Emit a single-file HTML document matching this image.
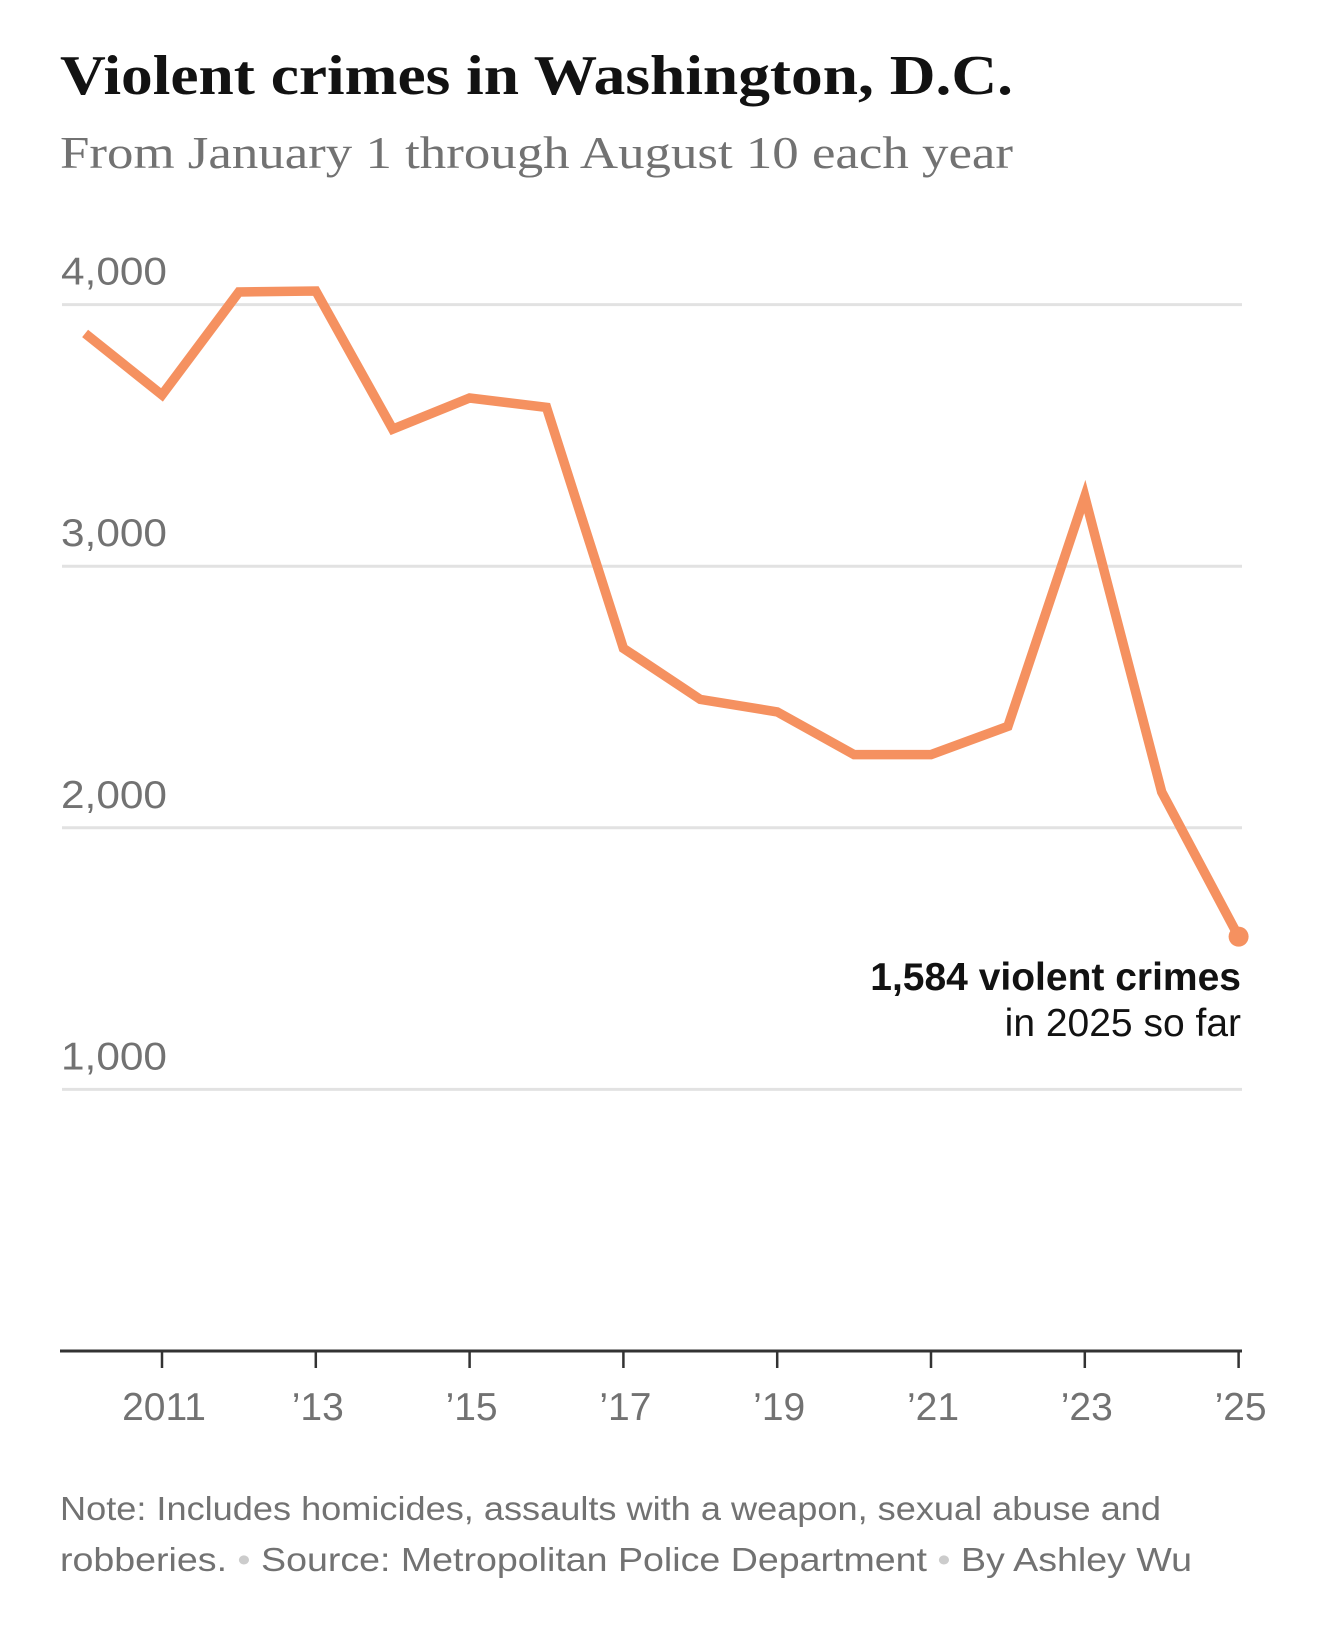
<!DOCTYPE html>
<html><head><meta charset="utf-8"><style>
html,body{margin:0;padding:0;background:#fff;}
svg{display:block;}
</style></head><body>
<svg id="chart" width="1320" height="1631" viewBox="0 0 1320 1631" xmlns="http://www.w3.org/2000/svg">
<text x="60" y="94" font-family="Liberation Serif, serif" font-weight="bold" font-size="56" fill="#121212" textLength="953" lengthAdjust="spacingAndGlyphs">Violent crimes in Washington, D.C.</text>
<text x="60" y="168" font-family="Liberation Serif, serif" font-size="46" fill="#727272" textLength="953" lengthAdjust="spacingAndGlyphs">From January 1 through August 10 each year</text>
<g id="grid"></g>
<g id="xaxis"></g>
<g id="series"></g>
<text x="1241" y="990" text-anchor="end" font-family="Liberation Sans, sans-serif" font-weight="bold" font-size="39" fill="#121212">1,584 violent crimes</text>
<text x="1241" y="1036" text-anchor="end" font-family="Liberation Sans, sans-serif" font-size="39" fill="#121212">in 2025 so far</text>
<text x="60" y="1520" font-family="Liberation Sans, sans-serif" font-size="33" fill="#727272" textLength="1101" lengthAdjust="spacingAndGlyphs">Note: Includes homicides, assaults with a weapon, sexual abuse and</text>
<text x="60" y="1571" font-family="Liberation Sans, sans-serif" font-size="33" fill="#727272" textLength="1132" lengthAdjust="spacingAndGlyphs">robberies. <tspan fill="#ccc">•</tspan> Source: Metropolitan Police Department <tspan fill="#ccc">•</tspan> By Ashley Wu</text>
</svg>
<script>
const years = [2010,2011,2012,2013,2014,2015,2016,2017,2018,2019,2020,2021,2022,2023,2024,2025];
const crimes = [3890,3655,4048,4052,3524,3643,3607,2686,2491,2443,2280,2280,2388,3266,2137,1584];
const yTicks = [1000,2000,3000,4000];
const yTickLabels = ["1,000","2,000","3,000","4,000"];
const xTicks = [2011,2013,2015,2017,2019,2021,2023,2025];
const xTickLabels = ["2011","\u201913","\u201915","\u201917","\u201919","\u201921","\u201923","\u201925"];

const NS = "http://www.w3.org/2000/svg";
const x = yr => 162 + (yr - 2011) * 76.9;
const y = v => 1351 - v * 0.2616;
function mk(tag, attrs, parent){const e=document.createElementNS(NS,tag);for(const k in attrs)e.setAttribute(k,attrs[k]);parent.appendChild(e);return e;}

const grid = document.getElementById('grid');
yTicks.forEach((t,i)=>{
  const l = mk('line',{x1:62,x2:1242,y1:y(t),y2:y(t),stroke:'#e2e2e2','stroke-width':3},grid);
  
  
  const tx = mk('text',{x:61,y:y(t)-20,'font-family':'Liberation Sans, sans-serif','font-size':39,fill:'#727272',textLength:106,lengthAdjust:'spacingAndGlyphs'},grid);
  tx.textContent = yTickLabels[i];
  
  
});

const xa = document.getElementById('xaxis');
const axisLine = mk('line',{x1:60,x2:1242,y1:1351,y2:1351,stroke:'#333','stroke-width':3},xa);


xTicks.forEach((t,i)=>{
  const tk = mk('line',{x1:x(t),x2:x(t),y1:1351,y2:1368,stroke:'#333','stroke-width':2.5},xa);
  
  
  const tx = mk('text',{x:x(t)+2,y:1420,'text-anchor':'middle','font-family':'Liberation Sans, sans-serif','font-size':39,fill:'#727272'},xa);
  tx.textContent = xTickLabels[i];
  
  
});

const s = document.getElementById('series');
const pts = years.map((yr,i)=>x(yr).toFixed(1)+','+y(crimes[i]).toFixed(1)).join(' ');
const pl = mk('polyline',{points:pts,fill:'none',stroke:'#f59160','stroke-width':9.5,'stroke-linejoin':'miter','stroke-linecap':'butt'},s);


const last = years.length-1;
const dot = mk('circle',{cx:x(years[last]),cy:y(crimes[last]),r:10,fill:'#f59160'},s);


</script>
</body></html>
